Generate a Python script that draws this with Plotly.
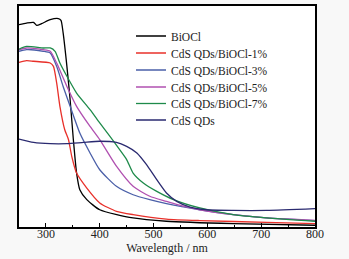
import plotly.graph_objects as go

# Wavelength (nm) and absorbance (normalized arbitrary units)
wl_biocl = [250, 264, 277, 283, 292, 308, 323, 328, 332, 339, 345, 351, 357, 363, 376, 400, 462, 524, 648, 800]
abs_biocl = [0.916, 0.923, 0.926, 0.912, 0.920, 0.938, 0.943, 0.935, 0.878, 0.727, 0.576, 0.395, 0.244, 0.169, 0.124, 0.078, 0.041, 0.026, 0.015, 0.008]

wl_1 = [250, 264, 277, 308, 314, 320, 326, 335, 342, 348, 357, 376, 400, 431, 462, 524, 586, 710, 800]
abs_1 = [0.745, 0.753, 0.750, 0.742, 0.727, 0.652, 0.546, 0.440, 0.395, 0.320, 0.244, 0.176, 0.109, 0.071, 0.056, 0.036, 0.029, 0.021, 0.015]

wl_3 = [250, 264, 295, 308, 320, 332, 345, 363, 382, 400, 431, 462, 493, 524, 586, 648, 710, 800]
abs_3 = [0.795, 0.803, 0.795, 0.787, 0.727, 0.636, 0.546, 0.425, 0.335, 0.259, 0.184, 0.146, 0.124, 0.106, 0.078, 0.056, 0.041, 0.029]

wl_5 = [250, 264, 295, 308, 320, 339, 357, 382, 400, 431, 462, 493, 524, 555, 586, 648, 710, 800]
abs_5 = [0.802, 0.810, 0.802, 0.795, 0.742, 0.636, 0.546, 0.455, 0.395, 0.275, 0.184, 0.139, 0.116, 0.094, 0.078, 0.056, 0.041, 0.030]

wl_7 = [250, 264, 295, 308, 317, 326, 339, 357, 382, 400, 419, 437, 450, 462, 481, 506, 537, 586, 648, 710, 800]
abs_7 = [0.805, 0.817, 0.810, 0.810, 0.795, 0.742, 0.682, 0.606, 0.531, 0.471, 0.410, 0.350, 0.305, 0.244, 0.199, 0.161, 0.124, 0.086, 0.056, 0.041, 0.026]

wl_cds = [250, 277, 308, 339, 370, 400, 431, 450, 469, 487, 506, 524, 543, 568, 598, 648, 710, 800]
abs_cds = [0.398, 0.383, 0.377, 0.377, 0.383, 0.388, 0.383, 0.365, 0.335, 0.282, 0.214, 0.154, 0.116, 0.090, 0.078, 0.075, 0.075, 0.083]

names = ["BiOCl", "CdS QDs/BiOCl-1%", "CdS QDs/BiOCl-3%", "CdS QDs/BiOCl-5%", "CdS QDs/BiOCl-7%", "CdS QDs"]
colors = ["#000000", "#e8302a", "#4a5fa8", "#b050b0", "#1e8a4a", "#2a2a70"]
xs = [wl_biocl, wl_1, wl_3, wl_5, wl_7, wl_cds]
ys = [abs_biocl, abs_1, abs_3, abs_5, abs_7, abs_cds]

x_ticks = [300, 400, 500, 600, 700, 800]

W, H = 349, 259
ML, MR, MT, MB = 19, 34, 6, 32
plot_h = H - MT - MB
legend_rows_px = [36, 53, 70, 87, 103.5, 120]

fig = go.Figure()
layout_legends = {}
for i, (n, c, x, y) in enumerate(zip(names, colors, xs, ys)):
    key = "legend" if i == 0 else f"legend{i + 1}"
    fig.add_trace(go.Scatter(x=x, y=y, mode="lines", name=n, legend=key,
                             line=dict(color=c, width=1.3, shape="spline", smoothing=0.6)))
    layout_legends[key] = dict(
        x=(131 - ML) / (W - ML - MR), y=(H - MB - legend_rows_px[i]) / plot_h,
        xanchor="left", yanchor="middle", bgcolor="rgba(0,0,0,0)",
        font=dict(size=11.5), itemwidth=30)

font = dict(family="Liberation Serif", size=12, color="#222")
fig.update_layout(
    width=W, height=H,
    margin=dict(l=ML, r=MR, t=MT, b=MB, autoexpand=False),
    paper_bgcolor="#f8f8f8", plot_bgcolor="white",
    font=font,
    showlegend=True,
    xaxis=dict(range=[250, 800], tickvals=x_ticks, ticks="inside", ticklen=4,
               tickcolor="black", showline=True, linecolor="black", linewidth=1.5,
               mirror=True, showgrid=False, zeroline=False, automargin=False,
               ticklabelstandoff=-5,
               minor=dict(dtick=50, ticks="inside", ticklen=2, tickcolor="black"),
               title=dict(text="Wavelength / nm", standoff=0, font=dict(size=12))),
    yaxis=dict(range=[0, 1], showticklabels=False, ticks="", showline=True, automargin=False,
               linecolor="black", linewidth=1.5, mirror=True, showgrid=False, zeroline=False),
    **layout_legends,
)
fig.write_html("out.html", config={"displayModeBar": False},
               post_script="document.body.style.margin='0';document.body.style.overflow='hidden';")
